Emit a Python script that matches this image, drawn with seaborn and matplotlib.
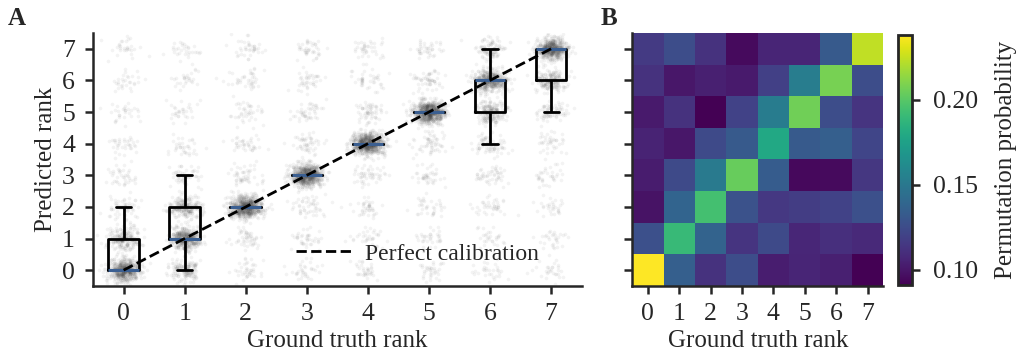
import seaborn as sns
import matplotlib.pyplot as plt
import pandas as pd
import numpy as np

# ranks 0..7
ranks = np.arange(8)

# counts of predicted rank (columns 0..7) for each ground truth rank (rows 0..7), per 1000 samples
pred_counts = [
    [550, 225, 60, 40, 35, 30, 30, 30],
    [150, 450, 225, 50, 35, 30, 30, 30],
    [40, 50, 700, 50, 40, 40, 40, 40],
    [35, 40, 50, 700, 50, 45, 40, 40],
    [35, 35, 40, 50, 700, 60, 40, 40],
    [35, 35, 35, 40, 60, 700, 55, 40],
    [30, 30, 40, 50, 75, 200, 475, 100],
    [30, 30, 30, 35, 40, 75, 200, 560],
]

# permutation probabilities, rows = predicted rank 7 (top) .. 0 (bottom), columns = ground truth rank 0..7
perm_prob = [
    [0.116, 0.125, 0.112, 0.095, 0.106, 0.106, 0.132, 0.224],
    [0.112, 0.100, 0.104, 0.101, 0.119, 0.153, 0.208, 0.125],
    [0.101, 0.112, 0.091, 0.120, 0.152, 0.206, 0.125, 0.113],
    [0.105, 0.100, 0.124, 0.132, 0.179, 0.132, 0.135, 0.121],
    [0.102, 0.124, 0.151, 0.204, 0.133, 0.094, 0.095, 0.114],
    [0.098, 0.138, 0.194, 0.128, 0.115, 0.117, 0.120, 0.127],
    [0.127, 0.190, 0.137, 0.113, 0.124, 0.107, 0.111, 0.108],
    [0.238, 0.135, 0.112, 0.125, 0.103, 0.106, 0.104, 0.091],
]

# expand counts into samples
gt = np.repeat(np.repeat(ranks, 8), np.array(pred_counts).ravel())
pred = np.repeat(np.tile(ranks, 8), np.array(pred_counts).ravel())
df = pd.DataFrame({'gt': gt, 'pred': pred})

# jitter only for display
rng = np.random.default_rng(3)
df['gt_j'] = df['gt'] + rng.normal(0, 0.13, len(df))
df['pred_j'] = df['pred'] + rng.normal(0, 0.18, len(df))

sns.set_theme(style='ticks', rc={
    'axes.linewidth': 1.8, 'xtick.major.width': 1.8, 'ytick.major.width': 1.8,
    'xtick.major.size': 6, 'ytick.major.size': 6,
    'xtick.major.pad': 6, 'ytick.major.pad': 7,
    'axes.edgecolor': '#262626', 'xtick.color': '#262626', 'ytick.color': '#262626',
    'text.color': '#262626', 'axes.labelcolor': '#262626',
})
plt.rcParams['font.family'] = ['Liberation Serif', 'DejaVu Serif']
fs = 18
tfs = 18.5

fig = plt.figure(figsize=(10.18, 3.62), dpi=100)
ax_a = fig.add_axes([0.0914, 0.21, 0.48, 0.699])
ax_b = fig.add_axes([0.621, 0.21, 0.2466, 0.699])
cax = fig.add_axes([0.882, 0.213, 0.0138, 0.69])

# Panel A: scatter + boxplot
ax_a.scatter(df['gt_j'], df['pred_j'], s=7, color='#3a3a3a', alpha=0.06,
             linewidths=0, zorder=1)
sns.boxplot(data=df, x='gt', y='pred', ax=ax_a, width=0.5, showfliers=False,
            fill=False, color='black', linewidth=2,
            medianprops={'color': '#3b5f91', 'linewidth': 2.2}, zorder=3)
ax_a.plot(ranks, ranks, ls='--', color='black', lw=2, label='Perfect calibration', zorder=4)
ax_a.set_xlim(-0.5, 7.5)
ax_a.set_ylim(-0.5, 7.5)
ax_a.set_xticks(ranks)
ax_a.set_xticklabels([str(r) for r in ranks])
ax_a.set_yticks(ranks)
ax_a.tick_params(labelsize=tfs)
ax_a.set_xlabel('Ground truth rank', fontsize=fs)
ax_a.set_ylabel('Predicted rank', fontsize=fs)
ax_a.legend(loc='lower right', frameon=False, fontsize=17, handlelength=2.4,
            handletextpad=0.5, bbox_to_anchor=(0.955, 0.0))
sns.despine(ax=ax_a)

# Panel B: heatmap
sns.heatmap(pd.DataFrame(perm_prob, index=ranks[::-1], columns=ranks), ax=ax_b,
            cmap='viridis', cbar_ax=cax, cbar_kws={'ticks': [0.10, 0.15, 0.20]})
ax_b.spines['left'].set_visible(True)
ax_b.spines['bottom'].set_visible(True)
ax_b.set_xticks(ranks + 0.5)
ax_b.set_xticklabels([str(r) for r in ranks], rotation=0)
ax_b.set_yticks(ranks + 0.5)
ax_b.set_yticklabels([])
ax_b.tick_params(labelsize=tfs, left=True, bottom=True)
ax_b.set_xlabel('Ground truth rank', fontsize=fs)
ax_b.set_ylabel('')

cbar = ax_b.collections[0].colorbar
cbar.outline.set_visible(True)
cbar.outline.set_linewidth(2)
cbar.outline.set_edgecolor('#262626')
cbar.ax.tick_params(labelsize=tfs, width=1.8, length=6, pad=9)
cbar.ax.yaxis.set_major_formatter(plt.FormatStrFormatter('%.2f'))
cbar.set_label('Permutation probability', fontsize=fs, labelpad=12)

fig.text(0.008, 0.93, 'A', fontsize=18, fontweight='bold')
fig.text(0.59, 0.93, 'B', fontsize=18, fontweight='bold')

fig.savefig('out.png', dpi=100)
